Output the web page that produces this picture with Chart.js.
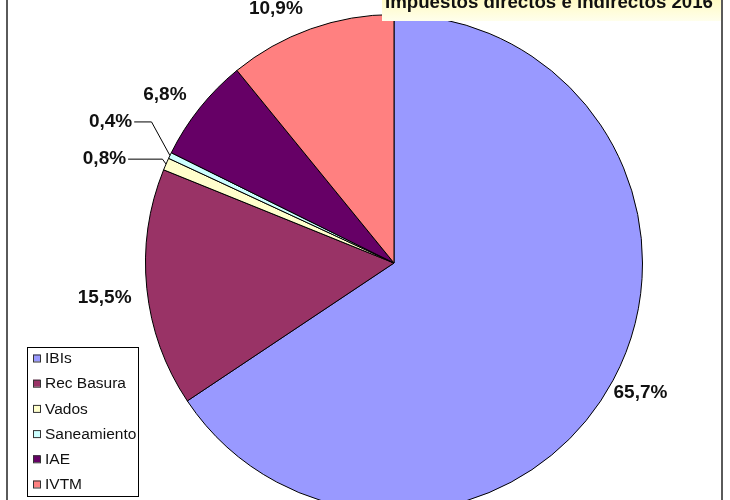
<!DOCTYPE html>
<html>
<head>
<meta charset="utf-8">
<script src="https://cdn.jsdelivr.net/npm/chart.js@4"></script>
<style>
  html, body { margin: 0; padding: 0; width: 730px; height: 500px; overflow: hidden; background: #fff; }
  #wrap { position: absolute; left: 0; top: 0; width: 730px; height: 520px; }
</style>
</head>
<body>
<div id="wrap"><canvas id="c" width="730" height="520"></canvas></div>
<script>
// ---- data ----
const categories = ['IBIs', 'Rec Basura', 'Vados', 'Saneamiento', 'IAE', 'IVTM'];
const values = [65.7, 15.5, 0.8, 0.4, 6.8, 10.9];
const valueLabels = ['65,7%', '15,5%', '0,8%', '0,4%', '6,8%', '10,9%'];
const titleText = 'Impuestos directos e indirectos 2016';

// ---- style ----
const colors = ['#9999FF', '#993366', '#FFFFCC', '#CCFFFF', '#660066', '#FF8080'];
// label placement: polar (extra radius, angle shift in deg) or leader (dx, dy from edge, elbow)
const labelStyle = [
  { mode: 'polar', dr: 30, da: -0.4 },
  { mode: 'polar', dr: 43, da: -1.1 },
  { mode: 'leader', dx: -61.6, dy: -5.4, ex: -3.6, ey: -4.9 },
  { mode: 'leader', dx: -59.4, dy: -33.6, ex: -18.4, ey: -33.6 },
  { mode: 'polar', dr: 36, da: -2.2 },
  { mode: 'polar', dr: 32, da: -5.3 }
];

const overlay = {
  id: 'overlay',
  afterDraw(chart) {
    const ctx = chart.ctx;
    const meta = chart.getDatasetMeta(0);
    ctx.save();
    // percentage labels
    ctx.font = 'bold 19px "Liberation Sans", Arial, sans-serif';
    ctx.fillStyle = '#111';
    ctx.textBaseline = 'middle';
    meta.data.forEach((arc, i) => {
      const p = arc.getProps(['x', 'y', 'startAngle', 'endAngle', 'outerRadius'], true);
      const mid = (p.startAngle + p.endAngle) / 2;
      const st = labelStyle[i];
      if (st.mode === 'polar') {
        const a = mid + st.da * Math.PI / 180;
        const r = p.outerRadius + st.dr;
        ctx.textAlign = 'center';
        ctx.fillText(valueLabels[i], p.x + r * Math.cos(a), p.y + r * Math.sin(a));
      } else {
        const ex = p.x + p.outerRadius * Math.cos(mid);
        const ey = p.y + p.outerRadius * Math.sin(mid);
        const lx = ex + st.dx, ly = ey + st.dy;
        const w = ctx.measureText(valueLabels[i]).width;
        ctx.textAlign = 'center';
        ctx.fillText(valueLabels[i], lx, ly);
        ctx.strokeStyle = '#000';
        ctx.lineWidth = 1;
        ctx.beginPath();
        ctx.moveTo(lx + w / 2 + 2, ey + st.ey);
        ctx.lineTo(ex + st.ex, ey + st.ey);
        ctx.lineTo(ex, ey);
        ctx.stroke();
      }
    });

    // frame lines
    ctx.strokeStyle = '#5a5a5a';
    ctx.lineWidth = 2;
    ctx.beginPath();
    ctx.moveTo(7, 0); ctx.lineTo(7, 520);
    ctx.moveTo(722, 0); ctx.lineTo(722, 520);
    ctx.stroke();

    // title box
    const g = ctx.createLinearGradient(0, 0, 0, 22);
    g.addColorStop(0, '#FFFBC4');
    g.addColorStop(1, '#FFFFEE');
    ctx.fillStyle = g;
    ctx.fillRect(382, 0, 339, 21);
    ctx.fillStyle = '#111';
    ctx.font = 'bold 19px "Liberation Sans", Arial, sans-serif';
    ctx.textAlign = 'left';
    ctx.textBaseline = 'alphabetic';
    const tw = ctx.measureText(titleText).width;
    ctx.save();
    ctx.translate(385, 8);
    ctx.scale(328 / tw, 1);
    ctx.fillText(titleText, 0, 0);
    ctx.restore();

    // legend
    ctx.fillStyle = '#fff';
    ctx.fillRect(27, 347, 111, 149);
    ctx.strokeStyle = '#000';
    ctx.lineWidth = 1;
    ctx.strokeRect(27.5, 347.5, 111, 149);
    ctx.font = '15.5px "Liberation Sans", Arial, sans-serif';
    ctx.textBaseline = 'middle';
    categories.forEach((c, i) => {
      const y = 358.5 + i * 25.2;
      ctx.fillStyle = colors[i];
      ctx.fillRect(33, y - 4, 7, 7);
      ctx.strokeStyle = '#333';
      ctx.strokeRect(33.5, y - 3.5, 7, 7);
      ctx.fillStyle = '#111';
      ctx.fillText(c, 45, y + 0.5);
    });
    ctx.restore();
  }
};

new Chart(document.getElementById('c'), {
  type: 'pie',
  data: {
    labels: categories,
    datasets: [{
      data: values,
      backgroundColor: colors,
      borderColor: '#000',
      borderWidth: 1
    }]
  },
  options: {
    responsive: false,
    animation: false,
    devicePixelRatio: 1,
    layout: { padding: { top: 14, left: 145, right: 87, bottom: 8 } },
    plugins: { legend: { display: false }, tooltip: { enabled: false }, title: { display: false } }
  },
  plugins: [overlay]
});
</script>
</body>
</html>
